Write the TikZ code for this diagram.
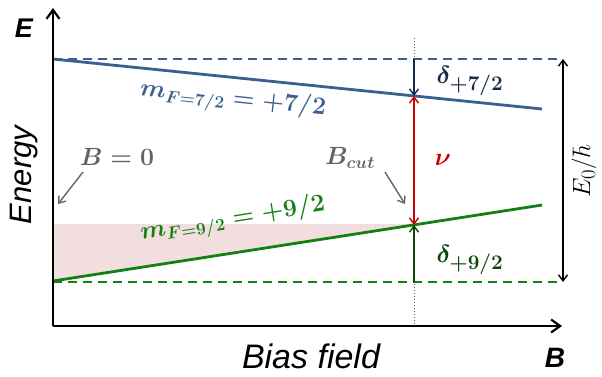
\documentclass[tikz,border=0pt]{standalone}
\usepackage{fontspec}
\newfontfamily\arialfont{Liberation Sans}
\usetikzlibrary{arrows.meta}
\definecolor{lblue}{RGB}{58,96,146}
\definecolor{navy}{RGB}{24,42,74}
\definecolor{lgreen}{RGB}{20,128,20}
\definecolor{dgreen}{RGB}{10,70,10}
\definecolor{lred}{RGB}{200,0,0}
\definecolor{pinkfill}{RGB}{242,222,222}
\definecolor{lgray}{RGB}{100,100,100}
\tikzset{
  axis/.style={line width=2.2pt,-{Straight Barb[length=9pt,width=13pt,line width=2.2pt]}},
  tip/.style={-{Straight Barb[length=6pt,width=9pt,line width=1.4pt]}},
  dtip/.style={{Straight Barb[length=6pt,width=9pt,line width=1.4pt]}-{Straight Barb[length=6pt,width=9pt,line width=1.4pt]}},
  lbl/.style={inner sep=0pt},
}
\begin{document}
\begin{tikzpicture}[x=1pt,y=-1pt]
\useasboundingbox (0,0) rectangle (602,376);
% coordinates
\coordinate (O) at (53,326);
\coordinate (ytop) at (53,8);
\coordinate (xend) at (562,326);
\coordinate (b7a) at (53,59);
\coordinate (b7b) at (542,109);
\coordinate (d7a) at (53,59);
\coordinate (d7b) at (562,59);
\coordinate (g9a) at (53,281);
\coordinate (g9b) at (542,205);
\coordinate (d9a) at (53,282);
\coordinate (d9b) at (562,282);
\coordinate (cutT) at (414,38);
\coordinate (cutB) at (414,326);
\coordinate (cutD7) at (414,59);
\coordinate (cut7) at (414,96);
\coordinate (cut9) at (414,225);
\coordinate (cutD9) at (414,282);
\coordinate (eT) at (563,59);
\coordinate (eB) at (563,282);
% pink fill
\fill[pinkfill] (53,224) -- (420,224) -- (g9a) -- cycle;
% dotted cut line
\draw[lgray,dotted,line width=1pt] (cutT) -- (cutB);
% dashed references
\draw[lblue,line width=1.4pt,dash pattern=on 9pt off 6pt] (d7a) -- (d7b);
\draw[lgreen,line width=1.4pt,dash pattern=on 9pt off 6pt] (d9a) -- (d9b);
% levels
\draw[lblue,line width=2.8pt] (b7a) -- (b7b);
\draw[lgreen,line width=2.8pt] (g9a) -- (g9b);
% axes
\draw[axis] (O) -- (ytop);
\draw[axis] (O) -- (xend);
% arrows
\draw[navy,line width=1.6pt,tip] (cutD7) -- (cut7);
\draw[dgreen,line width=1.6pt,tip] (cutD9) -- (cut9);
\draw[lred,line width=1.6pt,dtip] (cut7) -- (cut9);
\draw[black,line width=1.6pt,dtip] (eT) -- (eB);
% labels
\node[lbl,font=\arialfont\bfseries\itshape\fontsize{27}{27}\selectfont] (Elab) at (24,28) {E};
\node[lbl,font=\arialfont\bfseries\itshape\fontsize{28}{28}\selectfont] (Blab) at (555,358) {B};
\node[lbl,font=\arialfont\itshape\fontsize{31}{31}\selectfont,rotate=90] (energy) at (24,175) {Energy};
\node[lbl,font=\arialfont\itshape\fontsize{34}{34}\selectfont] (bias) at (311,356) {Bias field};
\node[lbl,text=lblue,rotate=-6,font=\fontsize{26}{26}\selectfont\boldmath] (m7) at (233,100) {$m_{F=7/2}=+7/2$};
\node[lbl,text=lgreen,rotate=9,font=\fontsize{26}{26}\selectfont\boldmath] (m9) at (233,220) {$m_{F=9/2}=+9/2$};
\node[lbl,text=lgray,font=\fontsize{25}{25}\selectfont\boldmath] (b0) at (117,157) {$B=0$};
\node[lbl,text=lgray,font=\fontsize{26}{26}\selectfont\boldmath] (bcut) at (350,158) {$B_{cut}$};
\node[lbl,text=lred,font=\fontsize{30}{30}\selectfont\boldmath] (nu) at (443,160) {$\nu$};
\node[lbl,text=navy,font=\fontsize{29}{29}\selectfont\boldmath] (d7) at (470,81) {$\delta_{+7/2}$};
\node[lbl,text=dgreen,font=\fontsize{29}{29}\selectfont\boldmath] (d9) at (470,260) {$\delta_{+9/2}$};
\node[lbl,rotate=90,font=\fontsize{28}{28}\selectfont] (e0) at (584,171) {$E_0/\hbar$};
% pointer arrows
\coordinate (p0a) at (83,172);
\coordinate (p0b) at (58,204);
\coordinate (pca) at (385,172);
\coordinate (pcb) at (405,204);
\draw[lgray,line width=1.4pt,tip] (p0a) -- (p0b);
\draw[lgray,line width=1.4pt,tip] (pca) -- (pcb);
\end{tikzpicture}
\end{document}
